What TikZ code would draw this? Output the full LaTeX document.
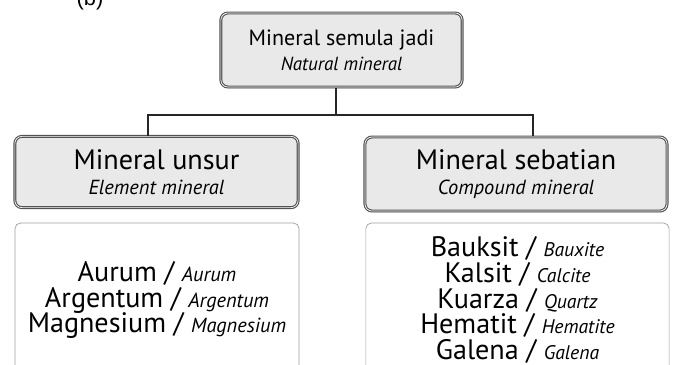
\documentclass[tikz,border=0pt]{standalone}
\usepackage{fontspec}
\setmainfont{PT Sans}
\newfontfamily\labelfont{Liberation Sans}
\usetikzlibrary{positioning, shadows}
\setlength{\lineskiplimit}{-20pt}
\tikzset{
    box_head/.style={rectangle, draw=gray!65!black, line width=0.8pt, double=white, double distance=0.5pt, rounded corners=5pt, fill=gray!17, align=center, inner sep=0pt, drop shadow={shadow xshift=0.6pt, shadow yshift=-0.9pt, fill=gray!70, opacity=0.8}},
    box_list/.style={rectangle, draw=gray!75, line width=0.5pt, rounded corners=4pt, fill=white, align=center, inner sep=0pt, font=\fontsize{20}{18.3}\selectfont},
    branch/.style={line width=1.4pt, black!85}
}

\begin{document}
\begin{tikzpicture}[x=0.025cm, y=-0.025cm]
    \useasboundingbox (0,0) rectangle (673,364);

    % Label
    \node[font=\labelfont\fontsize{15.6}{16}\selectfont, anchor=base] (tag) at (90,5) {(b)};

    % Boxes
    \node[box_head, minimum width=6.03cm, minimum height=1.85cm, font=\fontsize{15.7}{17.8}\selectfont] (top) at (341.5,50)
        {Mineral semula jadi\\{\fontsize{13.5}{15}\selectfont\itshape Natural mineral}};
    \node[box_head, minimum width=7.08cm, minimum height=1.78cm, font=\fontsize{20}{17.5}\selectfont] (lhead) at (156.5,172)
        {Mineral unsur\\{\fontsize{14.5}{16}\selectfont\itshape Element mineral}};
    \node[box_head, minimum width=7.55cm, minimum height=1.85cm, font=\fontsize{20}{17.5}\selectfont] (rhead) at (516,174)
        {Mineral sebatian\\{\fontsize{14.5}{16}\selectfont\itshape Compound mineral}};

    \node[box_list, minimum width=7.1cm, minimum height=3.85cm] (llist) at (157,300)
        {Aurum / {\fontsize{14.5}{14}\selectfont\itshape Aurum}\\
         Argentum / {\fontsize{14.5}{14}\selectfont\itshape Argentum}\\
         Magnesium / {\fontsize{14.5}{14}\selectfont\itshape Magnesium}};
    \node[box_list, minimum width=7.58cm, minimum height=3.85cm] (rlist) at (517.5,300)
        {Bauksit / {\fontsize{14}{14}\selectfont\itshape Bauxite}\\
         Kalsit / {\fontsize{14}{14}\selectfont\itshape Calcite}\\
         Kuarza / {\fontsize{14}{14}\selectfont\itshape Quartz}\\
         Hematit / {\fontsize{14}{14}\selectfont\itshape Hematite}\\
         Galena / {\fontsize{14}{14}\selectfont\itshape Galena}};

    % Branches
    \coordinate (jM) at (336,115);
    \coordinate (jL) at (148,115);
    \coordinate (jR) at (533,115);
    \draw[branch] (top.south -| jM) -- (jM);
    \draw[branch] (lhead.north -| jL) -- (jL) -- (jR) -- (rhead.north -| jR);
\end{tikzpicture}
\end{document}
